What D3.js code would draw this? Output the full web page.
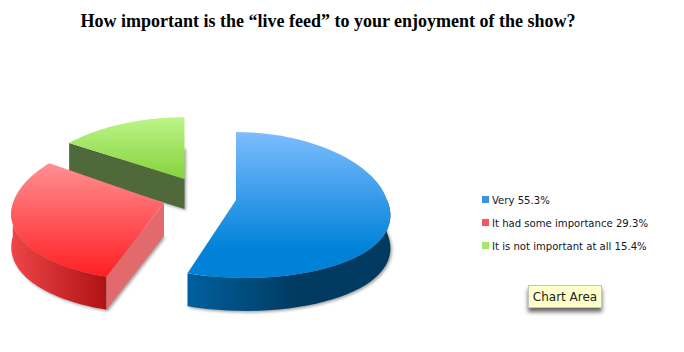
<!DOCTYPE html>
<html>
<head>
<style>
  html, body { margin: 0; padding: 0; background: #fff; }
  svg { display: block; }
  .legend text { font-family: "DejaVu Sans", sans-serif; font-size: 10.1px; fill: #14141f; }
</style>
</head>
<body>
<svg id="cont" width="684" height="352"></svg>
<script src="https://cdn.jsdelivr.net/npm/d3@7"></script>
<script>
const titleText = "How important is the \u201clive feed\u201d to your enjoyment of the show?";
const categories = ["Very", "It had some importance", "It is not important at all"];
const shares = [55.3, 29.3, 15.4];
const tooltipText = "Chart Area";

// one look per slice: top face colours, rim colours, cut wall colour
const looks = [
  {top: ["#7dbdff", "#0082d8"], topEnd: 0.8, rim: ["#00609f", "#003a60"], rimEnd: 0.55, cut: "#003a60", key: "#3a93e4"},
  {top: ["#ff8f93", "#ff1f22"], topEnd: 1, rim: ["#ee4548", "#b01214"], rimEnd: 1, cut: "#e26a6c", key: "#f4575b"},
  {top: ["#bdf58a", "#84d33b"], topEnd: 1, rim: ["#506a38", "#506a38"], rimEnd: 1, cut: "#50693a", key: "#a5e66e"}
];
// where each exploded slice sits, and how the tilted disc is squashed
const places = [
  {cx: 236, cy: 200, rx: 151, ry: 72.6, skew: 9.5, depth: 33},
  {cx: 164, cy: 203, rx: 151, ry: 73, skew: 0, depth: 33},
  {cx: 184.5, cy: 179, rx: 152, ry: 66, skew: 0, depth: 30}
];
const nearFarX = 0.15;
const nearFarY = 0.068;

const svg = d3.select("#cont");
const defs = svg.append("defs");

const blur = defs.append("filter").attr("id", "soft")
  .attr("x", "-20%").attr("y", "-20%").attr("width", "140%").attr("height", "150%");
blur.append("feGaussianBlur").attr("stdDeviation", 1.4);

const blurTip = defs.append("filter").attr("id", "softTip")
  .attr("x", "-20%").attr("y", "-40%").attr("width", "140%").attr("height", "200%");
blurTip.append("feGaussianBlur").attr("stdDeviation", 2.2);

svg.append("text")
  .attr("x", 328).attr("y", 27)
  .attr("text-anchor", "middle")
  .style("font-family", "'Liberation Serif', serif")
  .style("font-weight", "bold")
  .style("font-size", "18px")
  .attr("fill", "#000")
  .text(titleText);

const pie = d3.pie().sort(null);
const slices = pie(shares);

function project(place, angle, radius) {
  const u = Math.sin(angle) * radius;
  const v = Math.cos(angle) * radius;
  return [
    place.cx + place.rx * u / (1 + nearFarX * v) + (v < 0 ? -place.skew * v : 0),
    place.cy - place.ry * v / (1 + nearFarY * v)
  ];
}

const line = d3.line();

// back slices first so the nearer ones cover them
[2, 1, 0].forEach(i => {
  const d = slices[i];
  const place = places[i];
  const look = looks[i];
  const steps = d3.range(0, 61).map(k => d.startAngle + (d.endAngle - d.startAngle) * k / 60);
  const rimPts = steps.map(a => project(place, a, 1));
  const apex = project(place, 0, 0);
  const down = p => [p[0], p[1] + place.depth];

  const g = svg.append("g");

  const front = rimPts.filter((p, k) => Math.cos(steps[k]) < 0.02);
  const xs = d3.extent(rimPts, p => p[0]);
  const ys = d3.extent(rimPts.concat([apex]), p => p[1]);

  const topGrad = defs.append("linearGradient").attr("id", "top" + i)
    .attr("gradientUnits", "userSpaceOnUse")
    .attr("x1", 0).attr("x2", 0).attr("y1", ys[0]).attr("y2", ys[1]);
  topGrad.append("stop").attr("offset", 0).attr("stop-color", look.top[0]);
  topGrad.append("stop").attr("offset", look.topEnd).attr("stop-color", look.top[1]);

  const rimGrad = defs.append("linearGradient").attr("id", "rim" + i)
    .attr("gradientUnits", "userSpaceOnUse")
    .attr("x1", xs[0]).attr("x2", xs[1]).attr("y1", 0).attr("y2", 0);
  rimGrad.append("stop").attr("offset", 0).attr("stop-color", look.rim[0]);
  rimGrad.append("stop").attr("offset", look.rimEnd).attr("stop-color", look.rim[1]);

  const facePath = line([apex].concat(rimPts)) + "Z";
  const wall = front.length > 1 ? front.concat(front.slice().reverse().map(down)) : null;

  // soft shadow under the block, from its bottom face only
  g.append("path").attr("d", facePath).attr("fill", "#555")
    .attr("opacity", 0.55)
    .attr("transform", "translate(1.5," + (place.depth + 1.5) + ")")
    .attr("filter", "url(#soft)");

  if (wall) g.append("path").attr("d", line(wall) + "Z").attr("fill", "url(#rim" + i + ")");

  // cut walls that can be seen from the front
  const cutEdge = i === 1 ? [apex, rimPts[0]]
    : i === 2 ? [rimPts[0], apex]
    : [rimPts[0], apex].map(p => [p[0] - 2, p[1]]);
  const cut = cutEdge.concat(cutEdge.slice().reverse().map(down));
  g.append("path").attr("d", line(cut) + "Z").attr("fill", look.cut);

  g.append("path")
    .attr("d", facePath)
    .attr("fill", "url(#top" + i + ")");
});

const legend = svg.append("g").attr("class", "legend");
const legendY = d3.scalePoint().domain(categories).range([200, 246]);
categories.forEach((c, i) => {
  const row = legend.append("g").attr("transform", "translate(482," + legendY(c) + ")");
  row.append("rect").attr("x", 0).attr("y", -4).attr("width", 7).attr("height", 7)
    .attr("fill", looks[i].key);
  row.append("text").attr("x", 10).attr("y", 4).text(c + " " + shares[i] + "%");
});

const tip = svg.append("g").attr("transform", "translate(528,285)");
tip.append("rect").attr("x", 0).attr("y", 4).attr("width", 74).attr("height", 23)
  .attr("fill", "#333").attr("opacity", 0.75).attr("filter", "url(#softTip)");
tip.append("rect").attr("x", 0.5).attr("y", 0.5).attr("width", 73).attr("height", 22)
  .attr("fill", "#ffffcc").attr("stroke", "#c4c4c0");
tip.append("text").attr("x", 37).attr("y", 16)
  .attr("text-anchor", "middle")
  .style("font-family", "'DejaVu Sans', sans-serif").style("font-size", "12px")
  .attr("fill", "#222").text(tooltipText);
</script>
</body>
</html>
